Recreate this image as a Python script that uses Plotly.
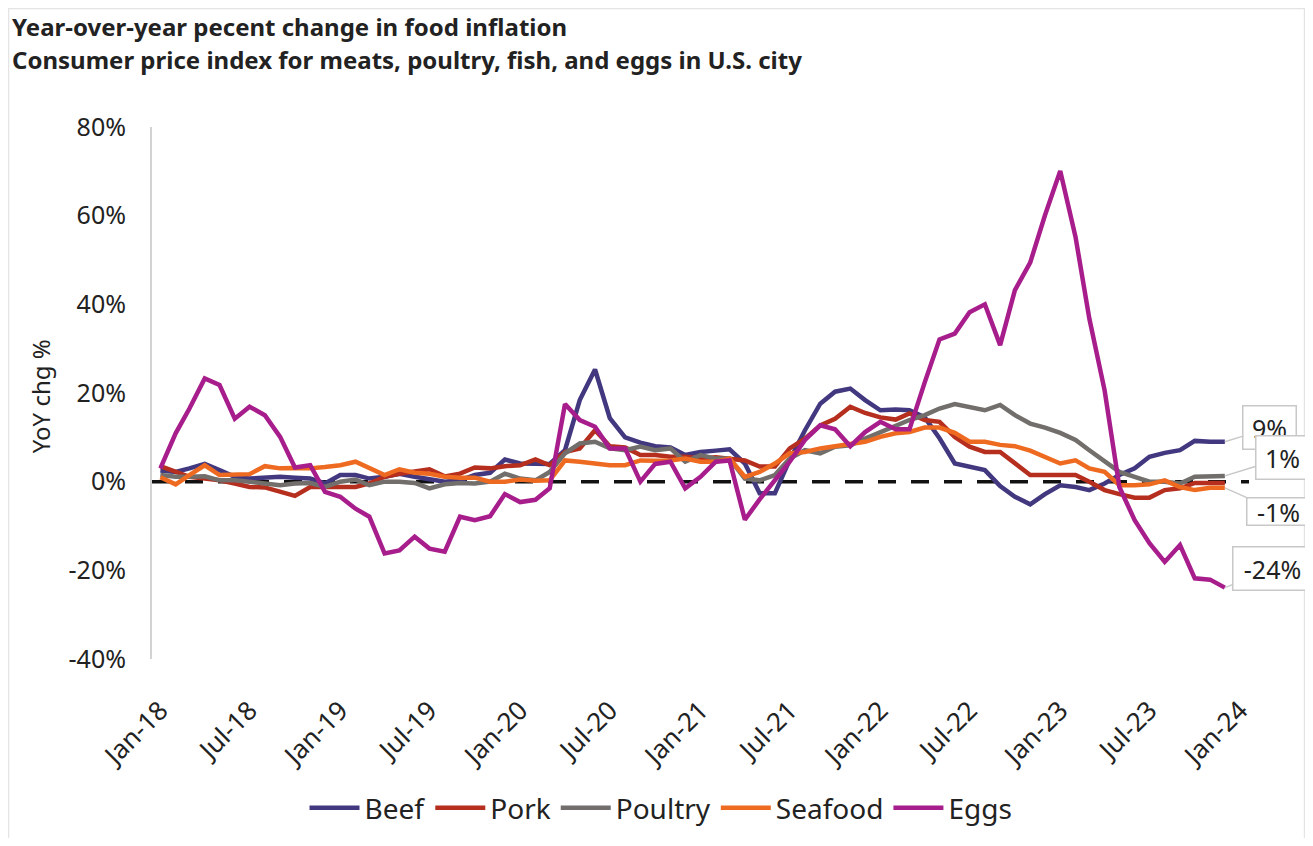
import pandas as pd
import plotly.graph_objects as go

# monthly YoY % change, Jan-18 .. Dec-23
months = pd.date_range("2018-01-01", "2023-12-01", freq="MS")

beef = [2.5, 2.2, 3.0, 4.0, 2.6, 1.1, 0.7, 0.8, 1.1, 0.9, 0.7, -0.4, 1.5, 1.5, 0.7, 1.1, 1.8, 1.1, 0.5,
        0.0, 0.3, 1.5, 2.0, 5.0, 4.1, 4.0, 4.0, 7.1, 18.4, 25.3, 14.3, 10.0, 8.8, 8.0, 7.7, 6.0, 6.7, 7.0,
        7.3, 4.1, -2.6, -2.6, 4.9, 11.6, 17.6, 20.3, 21.0, 18.4, 16.1, 16.3, 16.1, 14.5, 9.8, 4.1, 3.3, 2.6, -1.0,
        -3.4, -5.1, -2.8, -0.8, -1.2, -1.9, -0.4, 1.5, 3.0, 5.6, 6.5, 7.1, 9.2, 9.0, 9.0]
pork = [3.5, 2.2, 1.1, 0.7, 0.3, -0.4, -1.2, -1.3, -2.3, -3.2, -1.2, -1.2, -1.2, -1.2, -0.4, 1.1, 1.8, 2.2, 2.8,
        1.2, 1.8, 3.2, 3.0, 3.5, 3.7, 5.0, 3.7, 6.7, 7.5, 11.6, 8.0, 7.7, 6.0, 6.0, 5.6, 5.6, 5.2, 5.5,
        5.2, 4.8, 3.4, 3.4, 7.5, 9.7, 12.7, 14.2, 16.9, 15.5, 14.5, 14.0, 15.4, 13.9, 13.5, 10.1, 7.9, 6.7, 6.7,
        4.1, 1.5, 1.5, 1.6, 1.5, 0.0, -1.9, -2.8, -3.6, -3.6, -1.9, -1.5, -0.3, -0.3, -0.3]
poultry = [1.5, 1.1, 1.1, 1.2, 0.3, 0.3, 0.0, -0.4, -0.8, -0.4, -0.3, -1.2, 0.0, 0.5, -0.8, 0.0, 0.0, -0.3, -1.5,
           -0.6, -0.3, -0.4, 0.0, 1.8, 0.7, 0.3, 2.2, 6.4, 8.6, 9.0, 7.5, 7.1, 7.9, 7.1, 7.5, 4.5, 6.0, 5.2,
           5.2, 0.7, 0.3, 1.5, 5.2, 7.1, 6.4, 7.9, 8.2, 9.7, 11.2, 12.7, 13.9, 15.0, 16.5, 17.5, 16.9, 16.1, 17.3,
           15.0, 13.1, 12.2, 11.0, 9.4, 7.1, 4.5, 2.2, 1.1, 0.0, 0.0, -0.4, 1.1, 1.1, 1.3]
seafood = [1.0, -0.6, 1.5, 3.7, 1.5, 1.5, 1.7, 3.5, 3.0, 3.1, 3.0, 3.3, 3.7, 4.5, 3.0, 1.5, 2.8, 2.0, 1.8,
           1.1, 0.9, 0.9, 0.0, 0.0, 0.5, 0.2, 0.3, 4.8, 4.5, 4.2, 3.7, 3.7, 4.8, 4.7, 4.8, 5.2, 4.5, 4.5,
           5.2, 1.1, 2.2, 4.1, 6.4, 6.7, 7.5, 8.0, 8.5, 9.0, 10.1, 10.9, 11.2, 12.2, 12.2, 11.0, 9.0, 9.0, 8.3,
           8.0, 7.0, 5.5, 4.1, 4.8, 3.0, 2.2, -0.8, -0.8, -0.6, 0.3, -1.2, -1.9, -1.4, -1.4]
eggs = [3.0, 10.9, 16.5, 23.3, 21.8, 14.2, 16.9, 15.0, 10.1, 3.2, 3.7, -2.3, -3.4, -6.1, -7.9, -16.2, -15.5, -12.4, -15.1,
        -15.8, -7.9, -8.7, -7.8, -2.8, -4.6, -4.1, -1.5, 17.5, 13.9, 12.4, 7.5, 7.5, 0.0, 4.0, 4.5, -1.5, 1.1, 4.5,
        4.8, -8.6, -4.0, 0.3, 4.5, 9.4, 12.7, 11.8, 8.0, 11.2, 13.5, 11.8, 11.8, 22.4, 32.1, 33.4, 38.2, 40.0, 30.8,
        43.2, 49.4, 60.1, 70.1, 55.2, 36.8, 20.6, -1.2, -8.7, -13.9, -18.1, -14.3, -21.8, -22.1, -23.9]

names = ["Beef", "Pork", "Poultry", "Seafood", "Eggs"]
colors = ["#41387f", "#b52e1e", "#716e6b", "#ee6a21", "#a81d8c"]
series = [beef, pork, poultry, seafood, eggs]

y_ticks = [-40, -20, 0, 20, 40, 60, 80]
y_ticktext = [f"{v}%" for v in y_ticks]   # plain hyphen like the original

FONT = "Noto Sans"
TXT = "#222222"

fig = go.Figure()

# zero reference line
fig.add_hline(y=0, line=dict(color="#111111", width=3.5, dash="18px,15px"), layer="below")

for name, col, vals in zip(names, colors, series):
    fig.add_trace(go.Scatter(x=months, y=vals, mode="lines", name=name,
                             line=dict(color=col, width=4.5)))

# end-point callouts: (series, ax, ay, box w, box h)
callouts = [(beef, 45, -14, 50, 40), (poultry, 58, -18, 50, 40),
            (seafood, 54, 24, 60, 24), (eggs, 48, -19, 76, 40)]
for vals, ax, ay, w, h in callouts:
    fig.add_annotation(x=months[-1], y=vals[-1], text=f"{vals[-1]:.0f}%",
                       showarrow=True, arrowhead=0, arrowwidth=1.5, arrowcolor="#c8c8c8",
                       ax=ax, ay=ay, width=w, height=h,
                       bordercolor="#c8c8c8", borderwidth=1.5, borderpad=1,
                       bgcolor="white", font=dict(size=25, color=TXT, family=FONT))

# two-line title
fig.add_annotation(text="<b>Year-over-year pecent change in food inflation</b>",
                   xref="paper", yref="paper", x=-0.1295, y=1.2235, xanchor="left", yanchor="top",
                   showarrow=False, font=dict(size=24, color=TXT, family=FONT))
fig.add_annotation(text="<b>Consumer price index for meats, poultry, fish, and eggs in U.S. city</b>",
                   xref="paper", yref="paper", x=-0.1295, y=1.126, xanchor="left", yanchor="middle",
                   showarrow=False, font=dict(size=24, color=TXT, family=FONT))

# y-axis title placed by hand (axis title is clamped inside the margin)
fig.add_annotation(text="YoY chg %", textangle=-90, xref="paper", yref="paper",
                   x=-0.102, y=0.494, xanchor="center", yanchor="middle",
                   showarrow=False, font=dict(size=24, color=TXT, family=FONT))

# light frame around the chart
fig.add_shape(type="rect", xref="paper", yref="paper", x0=-0.1308, x1=1.0506, y0=-0.36, y1=1.2227,
              line=dict(color="#e4e4e4", width=1.5), fillcolor="rgba(0,0,0,0)", layer="below")

# page body adds an 8px offset, so the figure is 16px smaller than the window
fig.update_layout(
    width=1297, height=830,
    margin=dict(l=144, r=56, t=119, b=179),
    paper_bgcolor="white", plot_bgcolor="white",
    font=dict(family=FONT, color=TXT, size=25),
    showlegend=True,
    legend=dict(orientation="h", x=0.464, xanchor="center",
                yref="container", y=0.036, yanchor="middle",
                font=dict(size=28, color=TXT), itemwidth=50, tracegroupgap=0),
    xaxis=dict(range=["2017-12-15", "2024-01-19"], tick0="2018-01-01", dtick="M6",
               tickformat="%b-%y", tickangle=-45, showgrid=False, zeroline=False,
               showline=False, ticks="", ticklabelstandoff=30, automargin=False,
               tickfont=dict(size=26, color=TXT)),
    yaxis=dict(range=[-40, 80], tickmode="array", tickvals=y_ticks, ticktext=y_ticktext,
               showgrid=False, zeroline=False,
               showline=True, linecolor="#d3d3d3", linewidth=2, ticks="", ticklabelstandoff=19,
               automargin=False, tickfont=dict(size=25, color=TXT)),
)

fig.write_html("out.html")
